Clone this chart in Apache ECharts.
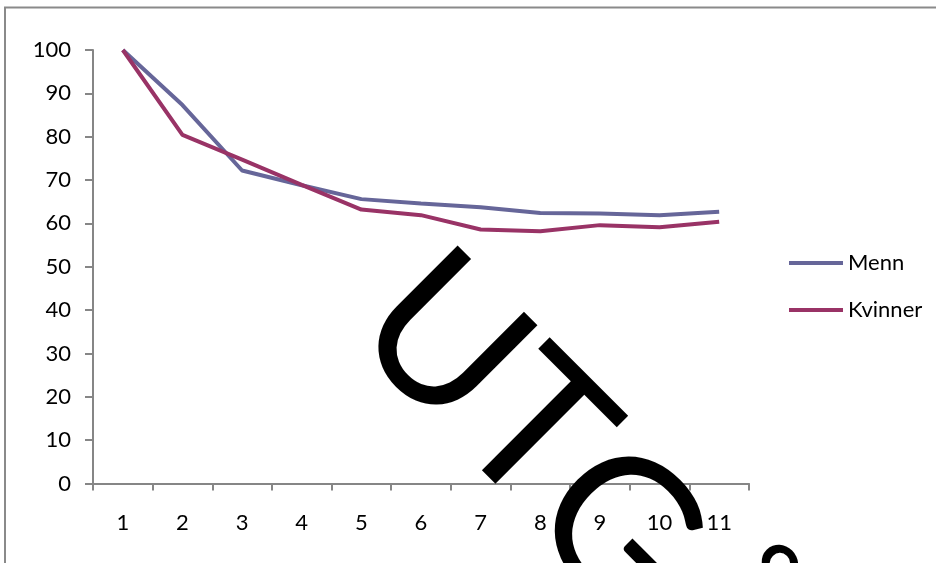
<!DOCTYPE html>
<html>
<head>
<meta charset="utf-8">
<title>Menn og Kvinner</title>
<script src="https://cdn.jsdelivr.net/npm/echarts@6/dist/echarts.min.js"></script>
<style>
  html, body { margin: 0; padding: 0; background: #fff; }
  #chart { width: 936px; height: 563px; }
</style>
</head>
<body>
<div id="chart"></div>
<script>
// Categories along the x axis
const categories = ['1', '2', '3', '4', '5', '6', '7', '8', '9', '10', '11'];

// Series values (index, first category = 100)
const menn = [100, 87.3, 72.2, 68.8, 65.6, 64.6, 63.7, 62.4, 62.3, 61.9, 62.7];
const kvinner = [100, 80.4, 74.7, 68.9, 63.2, 61.9, 58.6, 58.2, 59.6, 59.1, 60.4];

// Value axis range
const yMin = 0;
const yMax = 100;
const yStep = 10;

const FONT = 'Lato';
const AXIS_GREY = '#868686';

// Diagonal stamp: letters set one by one along a 45° baseline
// (x = position along the baseline, y = offset across it)
const stampLetters = [
  { ch: 'U', x: 70,  y: 0 },
  { ch: 'T', x: 199, y: 0 },
  { ch: 'G', x: 327, y: 10 },
  { ch: 'Å', x: 466, y: 23 },
  { ch: 'T', x: 590, y: 0 },
  { ch: 'T', x: 715, y: 0 }
];

const chart = echarts.init(document.getElementById('chart'), null, { renderer: 'canvas' });

chart.setOption({
  animation: false,
  backgroundColor: '#ffffff',
  grid: { left: 93, right: 187, top: 50, bottom: 79.5, containLabel: false },
  legend: {
    orient: 'vertical',
    left: 784,
    top: 247,
    itemWidth: 54,
    itemHeight: 4,
    itemGap: 25,
    icon: 'rect',
    textStyle: { fontFamily: FONT, fontSize: 22, color: '#000' },
    data: ['Menn', 'Kvinner']
  },
  xAxis: {
    type: 'category',
    data: categories,
    boundaryGap: true,
    axisLine: { lineStyle: { color: AXIS_GREY, width: 2 } },
    axisTick: { show: true, length: 7, interval: 0, lineStyle: { color: AXIS_GREY, width: 2 } },
    axisLabel: { margin: 28, interval: 0, fontFamily: FONT, fontSize: 22, color: '#000' },
    splitLine: { show: false }
  },
  yAxis: {
    type: 'value',
    min: yMin,
    max: yMax,
    interval: yStep,
    axisLine: { show: true, lineStyle: { color: AXIS_GREY, width: 2 } },
    axisTick: { show: true, length: 8, lineStyle: { color: AXIS_GREY, width: 2 } },
    axisLabel: { margin: 22, fontFamily: FONT, fontSize: 22, color: '#000' },
    splitLine: { show: false }
  },
  series: [
    {
      name: 'Menn',
      type: 'line',
      data: menn,
      symbol: 'none',
      color: '#666699',
      lineStyle: { width: 4, color: '#666699' }
    },
    {
      name: 'Kvinner',
      type: 'line',
      data: kvinner,
      symbol: 'none',
      color: '#993366',
      lineStyle: { width: 4, color: '#993366' }
    }
  ],
  graphic: [
    {
      // chart frame, running off the right and bottom edges
      type: 'rect',
      z: 0,
      shape: { x: 5, y: 7.5, width: 1200, height: 1000 },
      style: { fill: 'none', stroke: '#8a8a8a', lineWidth: 2 }
    },
    {
      type: 'group',
      z: 100,
      x: 393,
      y: 291,
      rotation: -Math.PI / 4,
      children: stampLetters.map(function (l) {
        return {
          type: 'text',
          z: 100,
          x: l.x,
          y: l.y,
          style: {
            text: l.ch,
            fill: '#000',
            font: '198px Lato',
            align: 'center',
            verticalAlign: 'middle'
          }
        };
      })
    }
  ]
});
</script>
</body>
</html>
